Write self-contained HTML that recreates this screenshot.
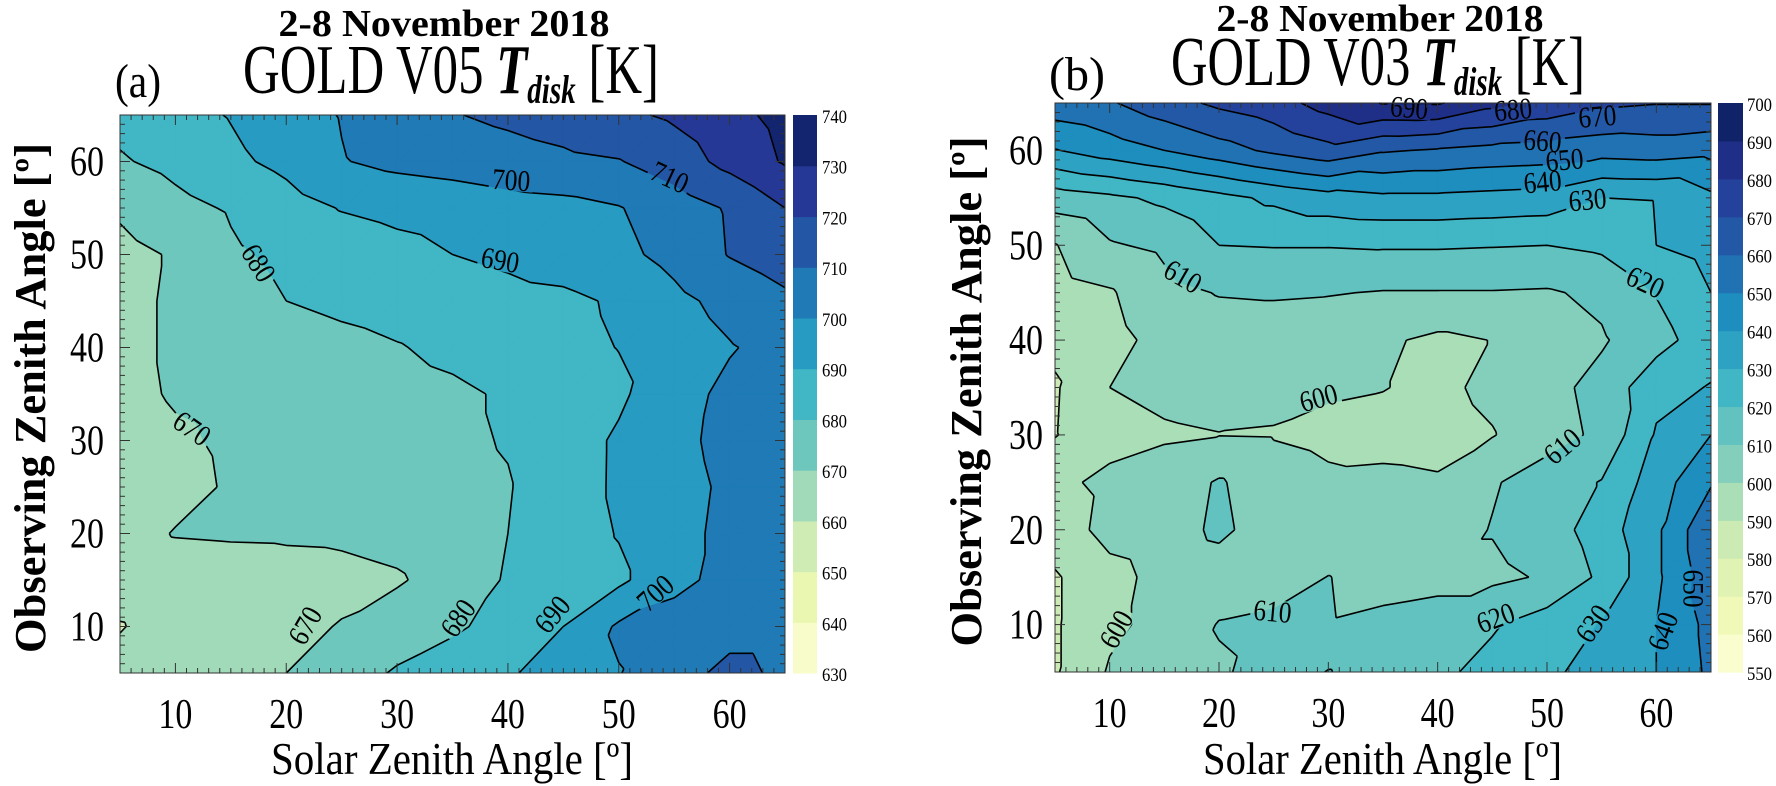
<!DOCTYPE html>
<html><head><meta charset="utf-8">
<style>
html,body{margin:0;padding:0;background:#fff;}
svg{display:block;font-family:"Liberation Serif",serif;}
</style></head>
<body>
<svg id="fig" xmlns="http://www.w3.org/2000/svg" width="1776" height="786" viewBox="0 0 1776 786">
  <defs id="defs"></defs>
  <g>
    <text x="444" y="36" text-anchor="middle" font-size="38" font-weight="bold" textLength="331" lengthAdjust="spacingAndGlyphs">2-8 November 2018</text>
    <text x="243" y="93" font-size="70" textLength="416" lengthAdjust="spacingAndGlyphs">GOLD V05 <tspan font-weight="bold" font-style="italic">T</tspan><tspan font-weight="bold" font-style="italic" font-size="40" dy="10">disk</tspan><tspan dy="-10"> [K]</tspan></text>
    <text x="115" y="97" font-size="48" textLength="46" lengthAdjust="spacingAndGlyphs">(a)</text>
  </g>
  <g>
    <text x="1380" y="31" text-anchor="middle" font-size="38" font-weight="bold" textLength="327" lengthAdjust="spacingAndGlyphs">2-8 November 2018</text>
    <text x="1171" y="85" font-size="70" textLength="414" lengthAdjust="spacingAndGlyphs">GOLD V03 <tspan font-weight="bold" font-style="italic">T</tspan><tspan font-weight="bold" font-style="italic" font-size="40" dy="10">disk</tspan><tspan dy="-10"> [K]</tspan></text>
    <text x="1049" y="90" font-size="48" textLength="56" lengthAdjust="spacingAndGlyphs">(b)</text>
  </g>
  <g id="panelA"></g>
  <g id="panelB"></g>
</svg>
<script>
// ---- shared axis data ----
const xVals = [5,10,15,20,25,30,35,40,45,50,55,60,65];
const yVals = [5,10,15,20,25,30,35,40,45,50,55,60,65];
const tickLabels = [10,20,30,40,50,60];

// ---- panel A data (rows y=5..65, columns x=5..65) ----
const levelsA = [630,640,650,660,670,680,690,700,710,720,730,740];
const gridA = [
 [663,665,667.5,670,675.5,681,685,689,694,699.6,706.7,712.2,708.5],
 [659.5,664,665.5,667.5,670.5,675,678.5,683.5,690,701.4,704,707,707],
 [664,665,665.5,666.5,667.5,669,674,681,684.5,688,697.5,703,706],
 [666,670.5,671,671.2,671.5,673,676,680,685,690.5,697.5,702,705],
 [664,667,671,673,675,676.5,678,679.5,685,691.5,697,701.5,704],
 [665,668.5,671.5,673.5,675.5,677,678.5,680.5,685,691.4,697.7,702.5,704],
 [667,671,672.5,674,675.5,677,678.5,681,685,688.3,696.7,702,704],
 [667,671.5,673.5,675.5,677.5,679.5,682,684.5,687.5,690.2,694.8,699.4,703],
 [667,671.5,676,680,682,683.5,685,687,688,691.2,697.5,703,708],
 [667,671,678.5,682,684.5,687,690,692,694.5,697.5,703,710.5,715],
 [671.5,677,681,686,690.5,692.5,694,696,697,699.5,705,711,720],
 [679,683,688,692.5,699.5,702.5,704,706,708,709.5,715,723,731],
 [683,687,690.5,695.5,700.5,705,709.5,712,714.5,718,721.5,727,733]
];
const labelTextA = ["680","690","700","710","670","670","680","690","700"];
const labelXA = [17.5,39.3,40.3,54.6,11.5,21.7,35.5,44,53.3];
const labelYA = [49.1,49.4,58,58.3,31.3,10.1,10.9,11.3,13.6];
const labelRotA = [58,10,4,25,35,-60,-55,-50,-42];

// ---- panel B data ----
const levelsB = [550,560,570,580,590,600,610,620,630,640,650,660,670,680,690,700];
const gridB = [
 [589,601,606,609,613,620.5,614,618,623,628,634,640,652],
 [589,598,603,610.5,612,610.5,612,613,619,625,630.5,640,653],
 [589,597,603,605,606,610.2,607,608,608,611,622,638,656],
 [595,603,605,612,605,604,604,605,610.5,615,625,638,659],
 [598,602,604,611,604,601.5,602,601,609,615,620.5,635,649],
 [589.5,597,599,599.8,599.5,598,597,596.5,599.5,606,612,631,640],
 [589,600,602,603,602,601,600.3,598,602,607,613,627,630.5],
 [592,597,603,605,605,604,601.5,598,600.2,606,609,616,626],
 [596,599,607,610.5,611,610.5,609.5,609.5,609.5,609,612,620.5,630],
 [599.5,609,612,620,620.5,620.5,621,621,620.5,620,622,630,634],
 [615,618,622,627,632,636,638,638,637,636,630,630.5,638],
 [639.5,645,650,656,662,667,661,659,657,656,654,655,653],
 [656,659,666,672,676,684,690.5,691,683,677,672,670.5,670.5]
];
const labelTextB = ["690","680","670","660","650","640","630","610","600","620","610","610","620","630","640","650","600"];
const labelXB = [37.4,46.9,54.6,49.6,51.6,49.6,53.7,16.7,29.1,59,51.4,24.9,45.3,54.2,60.6,63.4,10.6];
const labelYB = [64.5,64.3,63.6,61,59,56.7,54.8,46.7,33.9,46.1,28.8,11.4,10.7,10.1,9.3,13.8,9.5];
const labelRotB = [5,-5,-5,5,-5,-5,-5,30,-15,25,-40,5,-20,-55,-70,90,-60];

// ---- colour map (YlGnBu) ----
const cmapStops = ["#ffffd9","#edf8b1","#c7e9b4","#7fcdbb","#41b6c4","#1d91c0","#225ea8","#253494","#081d58"];
function hex2rgb(h){return [parseInt(h.substr(1,2),16),parseInt(h.substr(3,2),16),parseInt(h.substr(5,2),16)];}
function cmap(t){
  const p=Math.max(0,Math.min(1,t))*(cmapStops.length-1);
  const i=Math.min(cmapStops.length-2,Math.floor(p)); const f=p-i;
  const a=hex2rgb(cmapStops[i]), b=hex2rgb(cmapStops[i+1]);
  return "rgb("+a.map((v,k)=>Math.round(v+(b[k]-v)*f)).join(",")+")";
}
const NS="http://www.w3.org/2000/svg";
function mk(tag,attrs,parent){const e=document.createElementNS(NS,tag);for(const k in attrs)e.setAttribute(k,attrs[k]);parent.appendChild(e);return e;}

function clip(poly,f){
  const out=[];const n=poly.length;
  for(let i=0;i<n;i++){const a=poly[i],b=poly[(i+1)%n];const fa=f(a),fb=f(b);
    if(fa>=0)out.push(a);
    if((fa>=0)!==(fb>=0)){const t=fa/(fa-fb);out.push({x:a.x+(b.x-a.x)*t,y:a.y+(b.y-a.y)*t,v:a.v+(b.v-a.v)*t});}}
  return out;
}

function drawPanel(root,cfg){
  const {x0,x1,y0,y1,grid,levels,labelText,labelX,labelY,labelRot,cbX,cbW,cbLabX,tickLabX,yTitleX,xTitleX,xTitleW,name}=cfg;
  const sx=x=>x0+(x-5)/60*(x1-x0);
  const sy=y=>y1-(y-5)/60*(y1-y0);
  const nb=levels.length-1;
  const bandColor=k=>cmap((k+0.5)/nb);
  const dParts=new Array(nb).fill("");
  const lineD={};
  for(let j=0;j<yVals.length-1;j++){for(let i=0;i<xVals.length-1;i++){
    const P=(ii,jj)=>({x:sx(xVals[ii]),y:sy(yVals[jj]),v:grid[jj][ii]});
    const p00=P(i,j),p10=P(i+1,j),p01=P(i,j+1),p11=P(i+1,j+1);
    for(const tri of [[p00,p10,p11],[p00,p11,p01]]){
      for(let k=0;k<nb;k++){
        const lo=k===0?-1e9:levels[k], hi=k===nb-1?1e9:levels[k+1];
        let poly=clip(tri,p=>p.v-lo); if(poly.length<3)continue;
        poly=clip(poly,p=>hi-p.v); if(poly.length<3)continue;
        dParts[k]+="M"+poly.map(p=>p.x.toFixed(1)+" "+p.y.toFixed(1)).join("L")+"Z";
      }
      for(let k=1;k<nb;k++){
        const L=levels[k]+1e-4;const pts=[];
        for(let e=0;e<3;e++){const a=tri[e],b=tri[(e+1)%3];
          if((a.v-L)*(b.v-L)<0){const t=(L-a.v)/(b.v-a.v);pts.push([a.x+(b.x-a.x)*t,a.y+(b.y-a.y)*t]);}}
        if(pts.length===2){lineD[k]=(lineD[k]||"")+"M"+pts[0][0].toFixed(1)+" "+pts[0][1].toFixed(1)+"L"+pts[1][0].toFixed(1)+" "+pts[1][1].toFixed(1);}
      }
    }
  }}
  const fills=mk("g",{},root);
  
  
  for(let k=0;k<nb;k++){ if(!dParts[k])continue;
    const p=mk("path",{d:dParts[k],fill:bandColor(k),stroke:bandColor(k),"stroke-width":"0.7","stroke-linejoin":"round"},fills);
    
    
  }
  // mask to cut gaps in lines under labels
  const defs=document.getElementById("defs");
  const mask=mk("mask",{id:name+"-mask",maskUnits:"userSpaceOnUse",x:0,y:0,width:1776,height:786},defs);
  mk("rect",{x:0,y:0,width:1776,height:786,fill:"#fff"},mask);
  for(let n=0;n<labelText.length;n++){
    mk("rect",{x:-22,y:-11,width:44,height:22,fill:"#000",transform:"translate("+sx(labelX[n]).toFixed(1)+","+sy(labelY[n]).toFixed(1)+") rotate("+labelRot[n]+")"},mask);
  }
  const lines=mk("g",{fill:"none",stroke:"#000","stroke-width":"1.6",mask:"url(#"+name+"-mask)"},root);
  
  
  for(const k in lineD){
    const p=mk("path",{d:lineD[k]},lines);
    
    
  }
  for(let n=0;n<labelText.length;n++){
    const cx=sx(labelX[n]),cy=sy(labelY[n]);
    const t=mk("text",{x:0,y:10,transform:"translate("+cx.toFixed(1)+","+cy.toFixed(1)+") rotate("+labelRot[n]+")","text-anchor":"middle","font-size":"30",textLength:"38",lengthAdjust:"spacingAndGlyphs"},root);
    t.textContent=labelText[n];
    
    
  }
  // frame & ticks
  const ax=mk("g",{stroke:"#333","stroke-width":"1"},root);
  
  
  mk("rect",{x:x0,y:y0,width:x1-x0,height:y1-y0,fill:"none"},ax);
  for(let v=5;v<=65;v++){
    const L=v%10===0?10:5;
    mk("line",{x1:sx(v),y1:y1,x2:sx(v),y2:y1-L},ax);
    mk("line",{x1:sx(v),y1:y0,x2:sx(v),y2:y0+L},ax);
    mk("line",{x1:x0,y1:sy(v),x2:x0+L,y2:sy(v)},ax);
    mk("line",{x1:x1,y1:sy(v),x2:x1-L,y2:sy(v)},ax);
  }
  for(const v of tickLabels){
    const tx=mk("text",{x:sx(v),y:y1+55,"text-anchor":"middle","font-size":"42",textLength:"34",lengthAdjust:"spacingAndGlyphs"},root);
    tx.textContent=v;
    
    
    const ty=mk("text",{x:tickLabX,y:sy(v)+14,"text-anchor":"end","font-size":"42",textLength:"34",lengthAdjust:"spacingAndGlyphs"},root);
    ty.textContent=v;
    
    
  }
  const xt=mk("text",{x:xTitleX,y:774,"font-size":"46",textLength:xTitleW,lengthAdjust:"spacingAndGlyphs"},root);
  xt.textContent="Solar Zenith Angle [º]";
  
  
  const ymid=(y0+y1)/2+4;
  const yt=mk("text",{x:0,y:0,transform:"translate("+yTitleX+","+ymid+") rotate(-90)","text-anchor":"middle","font-size":"44","font-weight":"bold",textLength:"510",lengthAdjust:"spacingAndGlyphs"},root);
  yt.textContent="Observing  Zenith  Angle [º]";
  
  
  // colorbar
  const cb=mk("g",{},root);
  
  
  const segH=(y1-y0)/nb;
  for(let k=0;k<nb;k++){
    mk("rect",{x:cbX,y:(y1-(k+1)*segH).toFixed(2),width:cbW,height:(segH+0.6).toFixed(2),fill:bandColor(k)},cb);
  }
  for(let k=0;k<levels.length;k++){
    const t=mk("text",{x:cbLabX,y:(y1-k*segH+8).toFixed(1),"font-size":"19",textLength:"25",lengthAdjust:"spacingAndGlyphs"},cb);
    t.textContent=levels[k];
    
    
  }
}

drawPanel(document.getElementById("panelA"),{x0:120,x1:785,y0:115,y1:673,grid:gridA,levels:levelsA,
  labelText:labelTextA,labelX:labelXA,labelY:labelYA,labelRot:labelRotA,
  cbX:793,cbW:24,cbLabX:822,tickLabX:104,yTitleX:45,xTitleX:271,xTitleW:362,name:"panel-a"});
drawPanel(document.getElementById("panelB"),{x0:1055,x1:1711,y0:103,y1:672,grid:gridB,levels:levelsB,
  labelText:labelTextB,labelX:labelXB,labelY:labelYB,labelRot:labelRotB,
  cbX:1718,cbW:25,cbLabX:1747,tickLabX:1043,yTitleX:981,xTitleX:1203,xTitleW:359,name:"panel-b"});
</script>
</body></html>
